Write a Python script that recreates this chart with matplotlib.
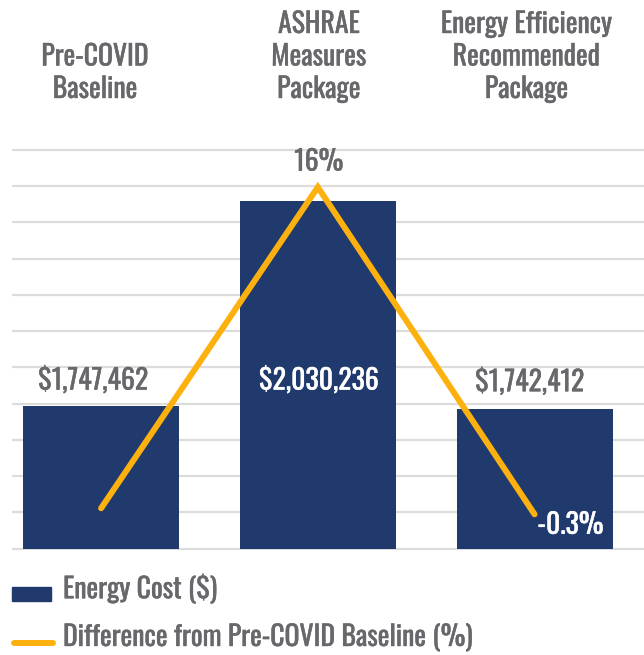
import matplotlib
matplotlib.use("Agg")
import matplotlib.pyplot as plt
import matplotlib.patheffects as pe
import numpy as np
from matplotlib.patches import Rectangle
from matplotlib.lines import Line2D
from matplotlib.transforms import blended_transform_factory

plt.rcParams['font.family'] = ['Oswald', 'DejaVu Sans']

# ---- data ----
categories = ["Pre-COVID\nBaseline", "ASHRAE\nMeasures\nPackage",
              "Energy Efficiency\nRecommended\nPackage"]
energy_cost = [1747462, 2030236, 1742412]
diff_pct = [0.0, 16.0, -0.3]
cost_labels = ["$1,747,462", "$2,030,236", "$1,742,412"]
pct_labels = ["", "16%", "-0.3%"]
series_names = ["Energy Cost ($)", "Difference from Pre-COVID Baseline (%)"]

# ---- style ----
NAVY = "#203a6e"
ORANGE = "#fdb10f"
GRAY = "#68686c"
GRID = "#dcdcdc"
FS = 20
LW = 4.3


def fx(color):
    return [pe.withStroke(linewidth=0.3, foreground=color)]


W, H = 644, 655
fig = plt.figure(figsize=(W / 100, H / 100), dpi=100)
B_px, T_px = 551, 147
ax = fig.add_axes([12 / W, (H - B_px) / H, 632 / W, (B_px - T_px) / H])
base = 1550000
ax.set_ylim(1546827, 2104145)
ax.set_xlim(-0.411, 2.505)
ax.set_yticks(np.arange(1550000, 2100001, 50000))
ax.yaxis.grid(True, color=GRID, linewidth=1.6)
ax.set_axisbelow(True)
for s in ax.spines.values():
    s.set_visible(False)

x = np.arange(len(categories))
ax.bar(x, np.array(energy_cost) - base, bottom=base, width=0.72, color=NAVY,
       label=series_names[0], zorder=2)

ax2 = ax.twinx()
ax2.set_ylim(-2.128, 18.0)
ax2.axis('off')
ax2.plot(x, diff_pct, color=ORANGE, linewidth=LW, solid_capstyle='round',
         solid_joinstyle='miter', label=series_names[1], zorder=3)
ax.tick_params(axis='both', which='both', left=False, right=False,
               bottom=False, top=False, labelleft=False, labelright=False,
               labelbottom=False, labeltop=False, length=0)

# category labels on top
tr = blended_transform_factory(ax.transData, fig.transFigure)
cat_dx = [-6, 1, -8]
for xi, c, dx in zip(x, categories, cat_dx):
    ax.annotate(c, xy=(xi, (H - 103) / H), xycoords=tr, xytext=(dx, 0),
                textcoords='offset pixels', ha='center', va='bottom',
                fontsize=FS, color=GRAY, linespacing=1.25,
                path_effects=fx(GRAY))

# cost labels
ax.annotate(cost_labels[0], xy=(x[0], energy_cost[0]), xytext=(-8, 25),
            textcoords='offset pixels', ha='center', va='center',
            fontsize=FS, color=GRAY, zorder=5, path_effects=fx(GRAY))
ax.annotate(cost_labels[1], xy=(x[1], energy_cost[1]), xytext=(1, -180),
            textcoords='offset pixels', ha='center', va='center',
            fontsize=FS, color='white', zorder=5, path_effects=fx('white'))
ax.annotate(cost_labels[2], xy=(x[2], energy_cost[2]), xytext=(-5, 27),
            textcoords='offset pixels', ha='center', va='center',
            fontsize=FS, color=GRAY, zorder=5, path_effects=fx(GRAY))

# pct labels
ax2.annotate(pct_labels[1], xy=(x[1], diff_pct[1]), xytext=(1, 25),
             textcoords='offset pixels', ha='center', va='center',
             fontsize=FS, color=GRAY, zorder=5, path_effects=fx(GRAY))
ax2.annotate(pct_labels[2], xy=(x[2], diff_pct[2]), xytext=(3, -11),
             textcoords='offset pixels', ha='left', va='center',
             fontsize=FS, color='white', zorder=5, path_effects=fx('white'))

# legend (drawn in figure pixels)
fig.add_artist(Rectangle((12 / W, 1 - 601 / H), 39 / W, 14 / H,
                         transform=fig.transFigure, color=NAVY))
fig.add_artist(Line2D([14 / W, 53 / W], [1 - 643 / H, 1 - 643 / H],
                      transform=fig.transFigure, color=ORANGE, linewidth=LW,
                      solid_capstyle='round'))
fig.text(63 / W, 1 - 589 / H, series_names[0], ha='left', va='center',
         fontsize=FS, color=GRAY, path_effects=fx(GRAY))
fig.text(63 / W, 1 - 638 / H, series_names[1], ha='left', va='center',
         fontsize=FS, color=GRAY, path_effects=fx(GRAY))

fig.savefig("out.png", dpi=100)
